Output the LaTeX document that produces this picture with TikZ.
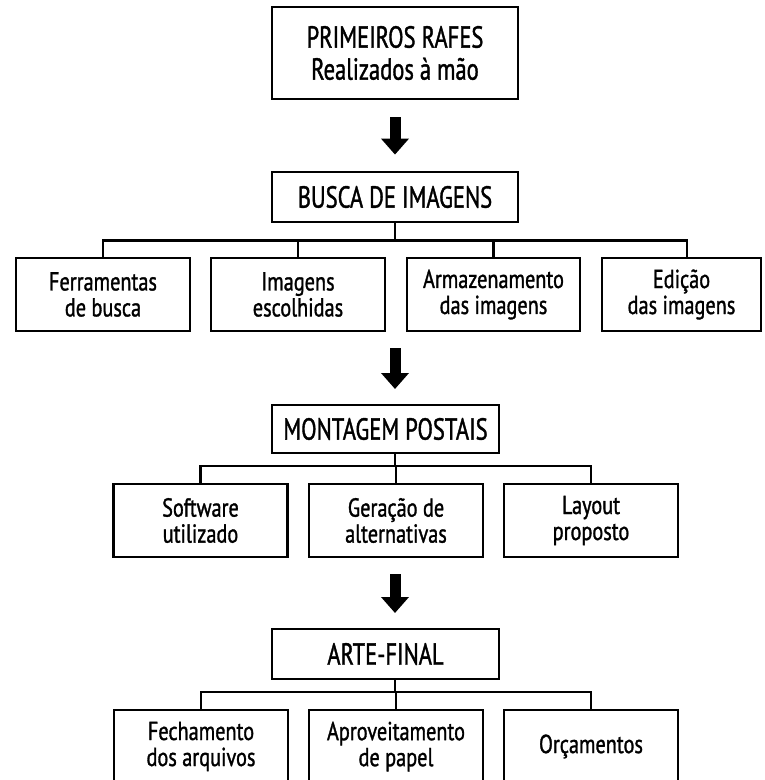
\documentclass[tikz,border=0pt]{standalone}
\usepackage{fontspec}
\setmainfont[FakeStretch=0.78, FakeBold=1.2]{PT Sans}
\newfontfamily\headfont[FakeStretch=0.74, FakeBold=1.2]{PT Sans}
\usetikzlibrary{arrows.meta}
\tikzset{
  box/.style={draw=black, line width=2.8pt, fill=white, inner sep=0pt, align=center},
  headbox/.style={box, font=\headfont\fontsize{30.5}{32}\selectfont},
  subbox/.style={box, minimum height=73, font=\fontsize{26}{26}\selectfont},
  link/.style={line width=2.5pt, line cap=rect},
  bigarrow/.style={line width=11pt, -{Triangle[width=27pt,length=16pt]}, shorten <=17pt, shorten >=16pt}
}
\begin{document}
\begin{tikzpicture}[x=1pt, y=-1pt]
\useasboundingbox (0,0) rectangle (764,780);
\clip (0,0) rectangle (764,780);
% level 0
\node[headbox, minimum width=246, minimum height=92] (top) at (395,53) {PRIMEIROS RAFES\\Realizados à mão};
% level 1
\node[headbox, minimum width=246, minimum height=50] (bus) at (395,197) {BUSCA DE IMAGENS};
\node[subbox, minimum width=174] (s1) at (103,294.5) {Ferramentas\\de busca};
\node[subbox, minimum width=174] (s2) at (298,294.5) {Imagens\\escolhidas};
\node[subbox, minimum width=173] (s3) at (493.5,294.5) {Armazenamento\\das imagens};
\node[subbox, minimum width=159] (s4) at (681.5,294.5) {Edição\\das imagens};
% level 2
\node[headbox, minimum width=227, minimum height=48] (mont) at (385.5,429) {MONTAGEM POSTAIS};
\node[subbox, minimum width=174] (t1) at (200.5,520.5) {Software\\utilizado};
\node[subbox, minimum width=174] (t2) at (396,520.5) {Geração de\\alternativas};
\node[subbox, minimum width=174] (t3) at (591,520.5) {Layout\\proposto};
% level 3
\node[headbox, minimum width=227, minimum height=50] (arte) at (385.5,654) {ARTE-FINAL};
\node[subbox, minimum width=174] (u1) at (201,746.5) {Fechamento\\dos arquivos};
\node[subbox, minimum width=174] (u2) at (396,746.5) {Aproveitamento\\de papel};
\node[subbox, minimum width=174] (u3) at (591,746.5) {Orçamentos};
% helper coordinates
\coordinate (a2s) at (395,331);
\coordinate (a2e) at (395,405);
\coordinate (a3s) at (395,557);
\coordinate (a3e) at (395,629);
\coordinate (mdrop) at (395,453);
\coordinate (adrop) at (395,679);
\coordinate (s4top) at (687,258);
% big arrows
\draw[bigarrow] (top.south) -- (bus.north);
\draw[bigarrow] (a2s) -- (a2e);
\draw[bigarrow] (a3s) -- (a3e);
% tree links
\draw[link] (bus.south) -- ++(0,17) -| (s1.north);
\draw[link] (bus.south) -- ++(0,17) -| (s2.north);
\draw[link] (bus.south) -- ++(0,17) -| (s3.north);
\draw[link] (bus.south) -- ++(0,17) -| (s4top);
\draw[link] (mdrop) -- ++(0,13) -| (t1.north);
\draw[link] (mdrop) -- ++(0,13) -| (t2.north);
\draw[link] (mdrop) -- ++(0,13) -| (t3.north);
\draw[link] (adrop) -- ++(0,13) -| (u1.north);
\draw[link] (adrop) -- ++(0,13) -| (u2.north);
\draw[link] (adrop) -- ++(0,13) -| (u3.north);
\end{tikzpicture}
\end{document}
